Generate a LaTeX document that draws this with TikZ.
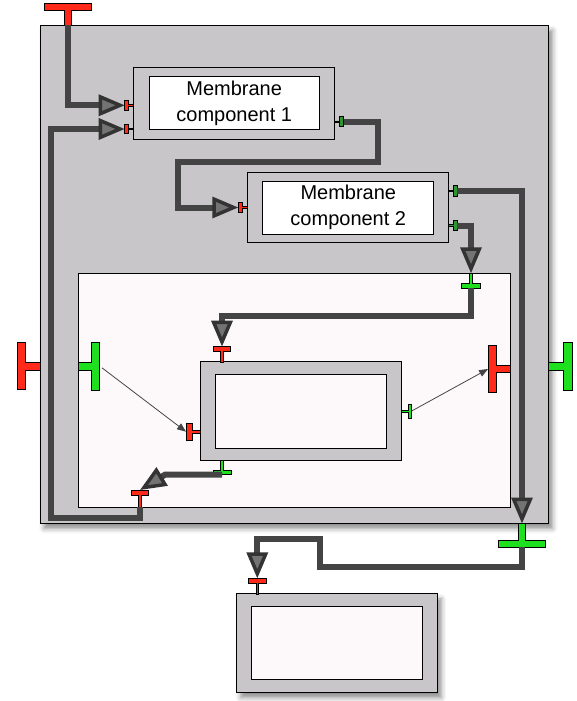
\documentclass[tikz,border=0pt]{standalone}
\usepackage{fontspec}
\setmainfont{Liberation Sans}
\usetikzlibrary{arrows.meta,shadows.blur}

\definecolor{cellgray}{HTML}{C8C6C8}
\definecolor{corewhite}{HTML}{FDF9FA}
\definecolor{portred}{HTML}{FF2A1A}
\definecolor{portgreen}{HTML}{1EE01E}
\definecolor{darkgreen}{HTML}{2E962E}
\definecolor{wiregray}{HTML}{444444}

\tikzset{
  frame/.style={draw=black, line width=1pt, fill=cellgray},
  core/.style={draw=black, line width=1pt, fill=corewhite},
  coretext/.style={core, fill=white, align=center, inner sep=0pt,
    font=\fontsize{20}{25.4}\selectfont},
  softshadow/.style={blur shadow={shadow xshift=4pt, shadow yshift=-5pt,
    shadow blur radius=5pt, shadow opacity=45}},
  wire/.style={draw=wiregray, line width=6pt,
    -{Triangle[length=26pt, width=21pt, line width=3.5pt, fill=black!55, color=black!80]}},
  thinwire/.style={draw=wiregray, line width=0.8pt, -{Triangle[length=9pt, width=7pt]}},
  portline/.style={draw=black, line width=0.8pt},
  % T shaped port: colour, bar length, bar thickness, stem length, stem thickness
  pics/tport/.style n args={5}{code={
    \draw[portline, fill=#1] (0,-#5/2) -- (#4,-#5/2) -- (#4,-#2/2) -- (#4+#3,-#2/2)
      -- (#4+#3,#2/2) -- (#4,#2/2) -- (#4,#5/2) -- (0,#5/2) -- cycle;
    \coordinate (-foot) at (0,0);
    \coordinate (-tip) at (#4+#3,0);
  }}
}

\begin{document}
\begin{tikzpicture}[x=1pt, y=-1pt]
  \useasboundingbox (0,0) rectangle (576,701);

  % Outer cell with its inner compartment
  \node[frame, softshadow, minimum width=508.5pt, minimum height=498pt] (cell) at (294.25,274.5) {};
  \node[core, minimum width=432pt, minimum height=234pt] (lumen) at (294,390.3) {};

  % Membrane components
  \node[frame, minimum width=201pt, minimum height=71pt] (comp1) at (233.8,103.5) {};
  \node[coretext, minimum width=170.3pt, minimum height=53.3pt] (comp1core) at (234.2,103.3) {Membrane\\component 1};
  \node[frame, minimum width=200.6pt, minimum height=70.4pt] (comp2) at (348,207.5) {};
  \node[coretext, minimum width=171.3pt, minimum height=53pt] (comp2core) at (348.3,207.5) {Membrane\\component 2};

  % Component inside the compartment
  \node[frame, minimum width=201pt, minimum height=98.7pt] (inner) at (301.2,411.3) {};
  \node[core, minimum width=170.7pt, minimum height=74.3pt] (innercore) at (301.3,411.2) {};

  % Component below the cell
  \node[frame, softshadow, minimum width=200.6pt, minimum height=98.7pt] (lower) at (337,643.3) {};
  \node[core, minimum width=170.6pt, minimum height=73.3pt] (lowercore) at (337,643.3) {};

  % Ports of the cell
  \pic[rotate=90] (cellin) at (68,25.5) {tport={portred}{47}{7}{15}{7}};
  \pic[rotate=180] (cellleft) at (40,366) {tport={portred}{47}{8.5}{14.5}{8}};
  \pic (cellright) at (548.5,366) {tport={portgreen}{48}{8.5}{15}{8}};
  \pic[rotate=-90] (cellout) at (522,523.5) {tport={portgreen}{47.5}{7.3}{16.5}{7}};

  % Ports of the compartment
  \pic (lumenleft) at (78,366) {tport={portgreen}{48}{8.6}{13}{8}};
  \pic[rotate=180] (lumenright) at (510,369) {tport={portred}{47}{8.4}{13.5}{7.7}};
  \pic[rotate=-90] (lumentop) at (471,273.3) {tport={portgreen}{19}{5}{10}{2.5}};
  \pic[rotate=90] (lumenlow) at (140,507.3) {tport={portred}{16.6}{5}{12.3}{2.5}};

  % Ports of the membrane components
  \pic[rotate=180] (c1in1) at (133.3,105.3) {tport={portred}{9.5}{4}{4.6}{1.5}};
  \pic[rotate=180] (c1in2) at (133.3,129) {tport={portred}{9.5}{4}{4.6}{1.5}};
  \pic (c1out) at (334.3,121.7) {tport={darkgreen}{10}{4}{5.4}{1.5}};
  \pic[rotate=180] (c2in) at (247.7,207.5) {tport={portred}{10.4}{4.4}{5}{1.5}};
  \pic (c2out1) at (448.3,191) {tport={darkgreen}{10.7}{4}{5}{1.5}};
  \pic (c2out2) at (448.3,225.5) {tport={darkgreen}{10.7}{4}{5}{1.5}};

  % Ports of the inner and lower components
  \pic[rotate=90] (itop) at (222,362) {tport={portred}{17.4}{4.7}{10.7}{2.5}};
  \pic[rotate=180] (ileft) at (200.7,431.7) {tport={portred}{17.4}{6}{8.7}{2.5}};
  \pic[rotate=-90] (ibottom) at (222,460.7) {tport={portgreen}{18}{4.7}{9.3}{2.5}};
  \pic (iright) at (401.7,411) {tport={portgreen}{14}{3.4}{6.6}{2}};
  \pic[rotate=90] (lowerin) at (257.3,594) {tport={portred}{17.7}{4.6}{11}{2.5}};

  % Connections
  \draw[wire] (cellin-foot) |- (c1in1-tip);
  \draw[wire] (lumenlow-foot) -- ++(0,11) -- ++(-89.5,0) |- (c1in2-tip);
  \draw[wire] (c1out-tip) -- ++(34,0) -- ++(0,40.3) -- ++(-199.5,0) |- (c2in-tip);
  \draw[wire] (c2out1-tip) -| (cellout-foot);
  \draw[wire] (c2out2-tip) -| (lumentop-foot);
  \draw[wire] (lumentop-tip) -- ++(0,28) -| (itop-tip);
  \draw[wire] (ibottom-tip) -- ++(-57,0) -- (lumenlow-tip);
  \draw[wire] (cellout-tip) -- ++(0,20) -- ++(-202,0) -- ++(0,-28) -| (lowerin-tip);
  \draw[thinwire, shorten <=3pt] (lumenleft-tip) -- (ileft-tip);
  \draw[thinwire] (iright-tip) -- (lumenright-tip);
\end{tikzpicture}
\end{document}
